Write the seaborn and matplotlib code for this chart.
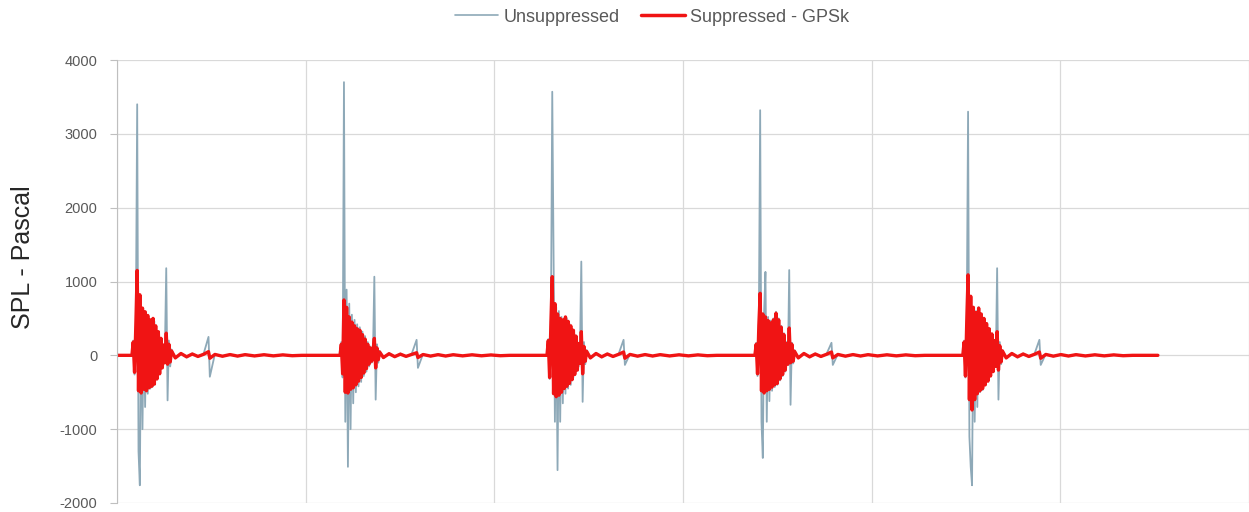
import matplotlib
matplotlib.use("Agg")
import matplotlib.pyplot as plt
import pandas as pd
import seaborn as sns

# sample offsets (ms) from the onset of each shot, same grid for every burst
offsets_ms = [
    0.0, 0.7, 1.4, 2.1, 2.8, 3.5, 4.2, 4.9, 5.6, 6.3, 7.0, 7.7, 8.4,
    9.1, 9.8, 10.5, 11.2, 11.9, 12.6, 13.3, 14.0, 14.7, 15.4, 16.1, 16.8,
    17.5, 18.2, 18.9, 19.6, 20.3, 21.0,
    23, 26, 29, 32, 35, 38, 40.6, 41.3, 44, 48, 52, 56, 60, 65, 70, 75, 80, 85, 90,
]
burst_starts_ms = [7.9, 118.2, 227.9, 338.1, 448.3]
record_end_ms = 551.7

# unsuppressed pressure (Pa), one list per shot
unsup_1 = [0, 200, -260, 480, 3400, -1300, -1760, 650, -1000, 550, -700, 500, -520,
           450, -450, 420, -420, 460, -330, 330, -260, 240, -180, 150, -120,
           90, 1180, -610, 200, -150, 80,
           -40, 30, -30, 25, -20, 20, 250, -290, 18, -18, 15, -15, 14, -12, 12, -10, 10, -8, 0]
unsup_2 = [0, 180, -300, 3700, -900, 890, -1510, 700, -1000, 550, -650, 480, -500,
           420, -420, 380, -360, 320, -280, 260, -220, 180, -150, 120, -100,
           70, 1065, -600, 150, -100, 60,
           -35, 30, -25, 25, -20, 20, 210, -170, 18, -16, 15, -14, 13, -12, 11, -10, 9, -8, 0]
unsup_3 = [0, 220, -320, 500, 3570, 1380, -900, 650, -1555, 600, -900, 520, -650,
           480, -520, 500, -450, 430, -400, 360, -300, 280, -220, 180, -150,
           100, 1270, -630, 180, -120, 70,
           -40, 30, -30, 25, -22, 20, 210, -130, 18, -16, 15, -14, 13, -12, 11, -10, 9, -8, 0]
unsup_4 = [0, 170, -280, 450, 3320, -900, -1390, 600, 1130, -900, 520, -620, 470,
           -480, 500, -430, 590, -400, 500, -340, 400, -280, 300, -220, 180,
           -130, 1155, -670, 170, -110, 70,
           -40, 30, -30, 25, -22, 20, 170, -130, 18, -16, 15, -14, 13, -12, 11, -10, 9, -8, 0]
unsup_5 = [0, 200, -300, 500, 3300, -1100, -1510, -1760, 650, -900, 600, -700, 650,
           -500, 520, -470, 450, -380, 380, -300, 300, -240, 220, -170, 150,
           -110, 1180, -600, 180, -120, 70,
           -40, 30, -30, 25, -22, 20, 210, -130, 18, -16, 15, -14, 13, -12, 11, -10, 9, -8, 0]

# suppressed pressure (Pa) with GPSk
sup_1 = [0, 180, -230, 420, 1150, -480, 820, -510, 640, -460, 590, -480, 540,
         -440, 480, -420, 500, -390, 400, -320, 320, -250, 230, -170, 140,
         -100, 300, -120, 150, -90, 60,
         -35, 25, -20, 18, -15, 14, 50, -40, 12, -12, 10, -10, 9, -8, 8, -7, 6, -5, 0]
sup_2 = [0, 150, -250, 750, -500, 650, -510, 520, -460, 450, -440, 400, -400,
         360, -350, 340, -300, 280, -240, 220, -180, 150, -120, 100, -80,
         60, 230, -170, 100, -60, 45,
         -30, 22, -18, 16, -14, 12, 35, -30, 11, -10, 9, -9, 8, -7, 7, -6, 5, -5, 0]
sup_3 = [0, 200, -300, 450, 1065, -520, 700, -560, 560, -540, 500, -500, 480,
         -450, 520, -420, 460, -380, 400, -330, 340, -260, 260, -200, 160,
         -110, 320, -250, 120, -80, 55,
         -35, 25, -20, 18, -15, 14, 45, -40, 12, -11, 10, -9, 9, -8, 7, -7, 6, -5, 0]
sup_4 = [0, 150, -250, 400, 840, -480, 560, -510, 520, -480, 470, -460, 440,
         -430, 480, -400, 570, -380, 480, -320, 380, -260, 280, -200, 160,
         -120, 370, -100, 150, -80, 55,
         -35, 25, -20, 18, -15, 14, 45, -35, 12, -11, 10, -9, 9, -8, 7, -7, 6, -5, 0]
sup_5 = [0, 180, -280, 450, 1090, -600, 800, -740, 650, -600, 580, -520, 640,
         -480, 560, -450, 500, -400, 430, -350, 360, -280, 290, -220, 200,
         -150, 320, -200, 130, -90, 60,
         -35, 25, -20, 18, -15, 14, 45, -40, 12, -11, 10, -9, 9, -8, 7, -7, 6, -5, 0]

series_names = ["Unsuppressed", "Suppressed - GPSk"]
unsuppressed = [unsup_1, unsup_2, unsup_3, unsup_4, unsup_5]
suppressed = [sup_1, sup_2, sup_3, sup_4, sup_5]

BLUE = "#8ea9b8"
RED = "#f01414"


def build_trace(bursts, name):
    t, v = [0.0], [0.0]
    for start, vals in zip(burst_starts_ms, bursts):
        t += [start + o for o in offsets_ms]
        v += list(vals)
    t.append(record_end_ms)
    v.append(0.0)
    return pd.DataFrame({"t": t, "spl": v, "series": name})


unsup_df = build_trace(unsuppressed, series_names[0])
sup_df = build_trace(suppressed, series_names[1])

sns.set_style("whitegrid")
plt.rcParams["font.family"] = ["Liberation Sans", "DejaVu Sans"]
plt.rcParams["axes.unicode_minus"] = False

W, H = 1249, 512
fig = plt.figure(figsize=(W / 100, H / 100), dpi=100)
ax = fig.add_axes([117 / W, 9 / H, 1 - 117 / W, 443 / H])

sns.lineplot(data=unsup_df, x="t", y="spl", color=BLUE, linewidth=1.3,
             estimator=None, sort=False, label=series_names[0], ax=ax)
sns.lineplot(data=sup_df, x="t", y="spl", color=RED, linewidth=2.4,
             estimator=None, sort=False, label=series_names[1], ax=ax)

ax.set_xlim(0, 600)
ax.set_ylim(-2000, 4000)
ax.set_xticks(range(0, 601, 100))
ax.set_xticklabels([])
ax.set_yticks(range(-2000, 4001, 1000))
ax.tick_params(axis="x", length=0)
ax.tick_params(axis="y", left=True, length=5, width=0.8, color="#bfbfbf",
               labelcolor="#595959", labelsize=10.5, pad=9)
ax.grid(color="#d9d9d9", linewidth=0.9)
for side in ["top", "right", "bottom"]:
    ax.spines[side].set_visible(False)
ax.spines["left"].set_color("#bfbfbf")

ax.set_xlabel("")
ax.set_ylabel("SPL - Pascal", fontsize=18, color="#262626")
ax.yaxis.set_label_coords(-0.072, 0.555)

handles, labels = ax.get_legend_handles_labels()
leg = ax.legend(handles, labels, loc="center", bbox_to_anchor=(652 / W, 1 - 17 / H),
                bbox_transform=fig.transFigure, ncol=2, frameon=False, fontsize=13,
                handlelength=2.4, handletextpad=0.3, columnspacing=1.2)
for text in leg.get_texts():
    text.set_color("#595959")
leg.get_lines()[0].set_linewidth(1.2)
leg.get_lines()[1].set_linewidth(2.5)

fig.savefig("out.png", dpi=100)
